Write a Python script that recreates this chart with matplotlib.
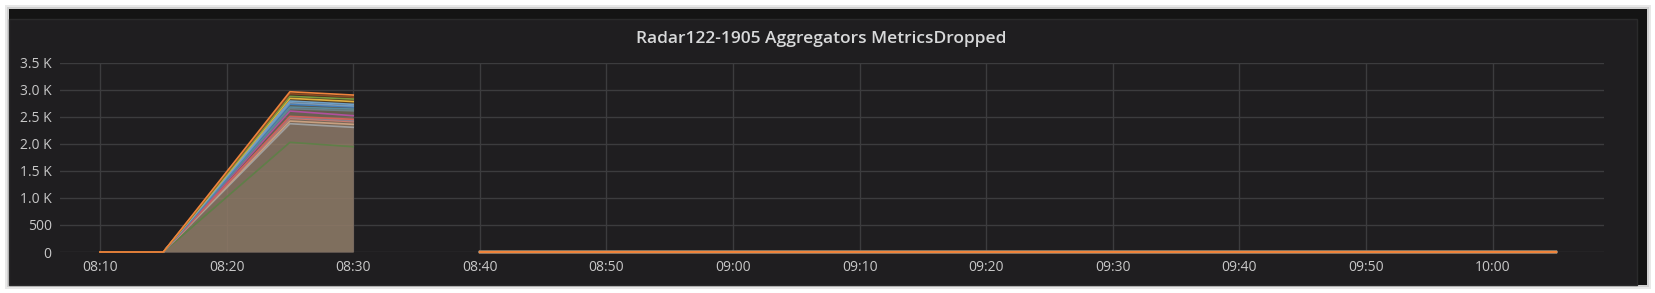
import numpy as np
import pandas as pd
import matplotlib
matplotlib.use("Agg")
import matplotlib.pyplot as plt
import matplotlib.dates as mdates
from matplotlib.patches import Rectangle
from matplotlib.ticker import FixedLocator, FuncFormatter

# series values (MetricsDropped per aggregator)
colors = ["#5f7f48", "#a0a0a0", "#c8a080", "#c87a70", "#8a7f8a", "#d0605a",
          "#b0509f", "#6a7f88", "#5a8a9a", "#447ebc", "#7a9ab8", "#6ea0c8",
          "#e0b040", "#7a9a40", "#8a4a20", "#ef843c"]
v_0825 = [2028, 2372, 2421, 2471, 2490, 2508, 2606, 2650, 2680, 2730, 2760,
          2791, 2841, 2878, 2926, 2963]
v_0830 = [1946, 2305, 2360, 2409, 2430, 2453, 2520, 2610, 2643, 2680, 2700,
          2730, 2782, 2828, 2865, 2902]

t_first = pd.to_datetime(["2019-05-01 08:10", "2019-05-01 08:15",
                          "2019-05-01 08:25", "2019-05-01 08:30"])
t_tail = pd.date_range("2019-05-01 08:40", "2019-05-01 10:05", freq="5min")
tail = np.zeros(len(t_tail))

x_ticks = pd.date_range("2019-05-01 08:10", "2019-05-01 10:00", freq="10min")
y_ticks = [0, 500, 1000, 1500, 2000, 2500, 3000, 3500]

W, H = 1655, 293
fig = plt.figure(figsize=(W / 100, H / 100), dpi=100)
fig.patch.set_facecolor("#ffffff")

def box(x0, y0, x1, y1, **kw):
    fig.patches.append(Rectangle((x0 / W, 1 - y1 / H), (x1 - x0) / W, (y1 - y0) / H,
                                 transform=fig.transFigure, figure=fig, zorder=-10, **kw))

# shadow + dark frame + panel
box(5, 5, 1651, 289, facecolor="#e8e8e8", edgecolor="none")
box(7, 7, 1649, 287, facecolor="#d0d0d0", edgecolor="none")
box(9, 9, 1647, 285, facecolor="#141414", edgecolor="none")
box(9, 19, 1637, 285, facecolor="#1f1e20", edgecolor="#2a2a2b", linewidth=1)

ax = fig.add_axes([60 / W, 1 - 252 / H, (1604 - 60) / W, (252 - 62.7) / H])
ax.set_facecolor("none")

for c, a, b in zip(colors, v_0825, v_0830):
    y = [0, 0, a, b]
    ax.fill_between(t_first, y, 0, color=c, alpha=0.1, linewidth=0)
    ax.plot(t_first, y, color=c, linewidth=1.2, clip_on=False)
    ax.plot(t_tail, tail, color=c, linewidth=1.6, clip_on=False)

x0 = pd.Timestamp("2019-05-01 08:10") - pd.Timedelta(minutes=3.16)
x1 = pd.Timestamp("2019-05-01 08:10") + pd.Timedelta(minutes=118.8)
ax.set_xlim(x0, x1)
ax.set_ylim(0, 3500)

ax.xaxis.set_major_locator(FixedLocator(mdates.date2num(x_ticks)))
ax.xaxis.set_major_formatter(mdates.DateFormatter("%H:%M"))
ax.yaxis.set_major_locator(FixedLocator(y_ticks))
ax.yaxis.set_major_formatter(FuncFormatter(lambda v, p: "0" if v == 0 else
                                           ("%d" % v if v < 1000 else "%.1f K" % (v / 1000))))

ax.grid(True, color="#3c3c3e", linewidth=1)
ax.set_axisbelow(True)
for s in ax.spines.values():
    s.set_visible(False)
ax.tick_params(length=0, colors="#c8c8c8", labelsize=10, pad=6)
for lab in ax.get_xticklabels() + ax.get_yticklabels():
    lab.set_family("Open Sans")

fig.text(821 / W, 1 - 39 / H, "Radar122-1905 Aggregators MetricsDropped",
         ha="center", va="center", color="#d8d9da", fontsize=12.5,
         family="Open Sans", fontweight="semibold")

fig.savefig("out.png", dpi=100, facecolor=fig.get_facecolor())
